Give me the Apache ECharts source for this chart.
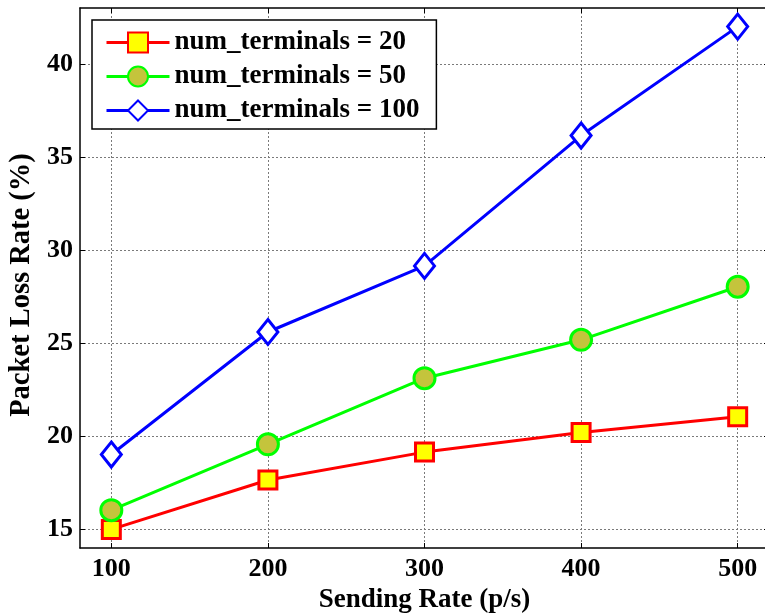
<!DOCTYPE html>
<html>
<head>
<meta charset="utf-8">
<script src="https://cdn.jsdelivr.net/npm/echarts@6/dist/echarts.min.js"></script>
<style>
html,body{margin:0;padding:0;background:#fff;}
#c{width:765px;height:613px;}
</style>
</head>
<body>
<div id="c"></div>
<script>
const sendingRates = [100, 200, 300, 400, 500];
const loss20 = [15.0, 17.65, 19.15, 20.2, 21.05];
const loss50 = [16.03, 19.57, 23.12, 25.18, 28.03];
const loss100 = [19.02, 25.6, 29.15, 36.15, 42.0];
const xTicks = [100, 200, 300, 400, 500];
const yTicks = [15, 20, 25, 30, 35, 40];
const seriesNames = ['num_terminals = 20', 'num_terminals = 50', 'num_terminals = 100'];

const font = 'Liberation Serif';
const pair = (ys) => sendingRates.map((x, i) => [x, ys[i]]);

const gridLine = { show: true, lineStyle: { color: '#7a7a7a', type: [2, 2], width: 1 } };

const chart = echarts.init(document.getElementById('c'), null, { renderer: 'canvas' });
chart.setOption({
  animation: false,
  backgroundColor: '#fff',
  grid: { left: 80, top: 8, right: -4, bottom: 65, containLabel: false, outerBoundsMode: 'none' },
  legend: {
    orient: 'vertical',
    left: 92, top: 20,
    backgroundColor: '#fff',
    borderColor: '#000', borderWidth: 1.5, borderRadius: 0,
    padding: [9, 17, 5, 13],
    itemWidth: 63, itemHeight: 25, itemGap: 7,
    lineStyle: { width: 3 },
    textStyle: { fontFamily: font, fontWeight: 'bold', fontSize: 27, lineHeight: 25, color: '#000' },
    data: seriesNames
  },
  xAxis: [{
    type: 'value', min: 80, max: 520, position: 'bottom',
    name: 'Sending Rate (p/s)', nameLocation: 'middle', nameGap: 33,
    nameTextStyle: { fontFamily: font, fontWeight: 'bold', fontSize: 27, color: '#000' },
    axisLine: { show: true, onZero: false, lineStyle: { color: '#000', width: 1.5 } },
    axisTick: { show: true, inside: true, length: 5, customValues: xTicks, lineStyle: { color: '#000' } },
    axisLabel: { customValues: xTicks, margin: 8, fontFamily: font, fontWeight: 'bold', fontSize: 26, color: '#000' },
    splitLine: gridLine
  }, {
    type: 'value', min: 80, max: 520, position: 'top',
    axisLine: { show: true, onZero: false, lineStyle: { color: '#000', width: 1.5 } },
    axisTick: { show: true, inside: true, length: 5, customValues: xTicks, lineStyle: { color: '#000' } },
    axisLabel: { show: false },
    splitLine: { show: false }
  }],
  yAxis: [{
    type: 'value', min: 14, max: 43, position: 'left',
    name: 'Packet Loss Rate (%)', nameLocation: 'middle', nameGap: 39,
    nameTextStyle: { fontFamily: font, fontWeight: 'bold', fontSize: 28.5, color: '#000', padding: [0, 14, 0, 0] },
    axisLine: { show: true, onZero: false, lineStyle: { color: '#000', width: 1.5 } },
    axisTick: { show: true, inside: true, length: 5, customValues: yTicks, lineStyle: { color: '#000' } },
    axisLabel: { customValues: yTicks, margin: 7, fontFamily: font, fontWeight: 'bold', fontSize: 26, color: '#000' },
    splitLine: gridLine
  }, {
    type: 'value', min: 14, max: 43, position: 'right',
    axisLine: { show: true, onZero: false, lineStyle: { color: '#000', width: 1.5 } },
    axisTick: { show: true, inside: true, length: 5, customValues: yTicks, lineStyle: { color: '#000' } },
    axisLabel: { show: false },
    splitLine: { show: false }
  }],
  series: [{
    name: seriesNames[0], type: 'line', data: pair(loss20),
    symbol: 'rect', symbolSize: 18,
    lineStyle: { color: '#ff0000', width: 3 },
    itemStyle: { color: '#ffff00', borderColor: '#ff0000', borderWidth: 3 },
    z: 3
  }, {
    name: seriesNames[1], type: 'line', data: pair(loss50),
    symbol: 'circle', symbolSize: 21,
    lineStyle: { color: '#00ff00', width: 3 },
    itemStyle: { color: '#c4c43c', borderColor: '#00ff00', borderWidth: 3 },
    z: 3
  }, {
    name: seriesNames[2], type: 'line', data: pair(loss100),
    symbol: 'diamond', symbolSize: [20, 25],
    lineStyle: { color: '#0000ff', width: 3 },
    itemStyle: { color: '#ffffff', borderColor: '#0000ff', borderWidth: 3 },
    z: 3
  }]
});
</script>
</body>
</html>
